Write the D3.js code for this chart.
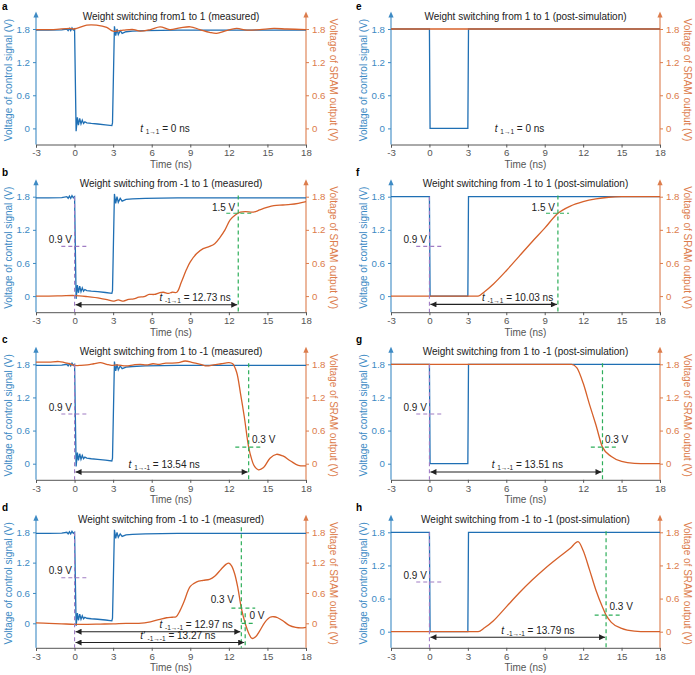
<!DOCTYPE html>
<html><head><meta charset="utf-8">
<script src="https://cdn.jsdelivr.net/npm/d3@7"></script>
<style>body{margin:0;background:#fff} svg{font-family:"Liberation Sans",Arial,sans-serif}</style>
</head><body><svg id="c" width="695" height="675"></svg>
<script>
// ---------- data ----------
const timeTicks = [-3,0,3,6,9,12,15,18];
const voltTicks = [0,0.6,1.2,1.8];
const panelLetters = ["a","b","c","d","e","f","g","h"];
const panelTitles = [
  "Weight switching from1 to 1 (measured)",
  "Weight switching from -1 to 1 (measured)",
  "Weight switching from 1 to -1 (measured)",
  "Weight switching from -1 to -1 (measured)",
  "Weight switching from 1 to 1 (post-simulation)",
  "Weight switching from -1 to 1 (post-simulation)",
  "Weight switching from 1 to -1 (post-simulation)",
  "Weight switching from -1 to -1 (post-simulation)"
];
const ctrlMeasured = [[-3,1.78],[-2,1.78],[-1,1.785],[-0.6,1.8],[-0.5,1.77],[-0.4,1.81],[-0.3,1.77],[-0.2,1.82],[-0.1,1.78],[0,1.8],[0.12,-0.05],[0.22,0.2],[0.3,0.06],[0.4,0.18],[0.5,0.08],[0.6,0.15],[0.7,0.09],[0.8,0.12],[0.95,0.1],[1.3,0.09],[1.8,0.08],[2.4,0.065],[2.9,0.05],[2.95,0.1],[3.1,1.85],[3.2,1.68],[3.3,1.8],[3.4,1.7],[3.55,1.77],[3.7,1.72],[4.0,1.75],[4.5,1.76],[5.5,1.77],[8,1.78],[18,1.78]];
const ctrlSim = [[-3,1.8],[0,1.8],[0.05,0],[3,0],[3.05,1.8],[18,1.8]];
const sramA = [[-3,1.79],[-1.65,1.79],[-0.35,1.81],[0,1.8],[0.94,1.87],[1.7,1.87],[2.5,1.83],[3,1.76],[3.8,1.78],[4.6,1.79],[5.1,1.76],[5.9,1.79],[6.65,1.84],[7.4,1.79],[8.2,1.82],[9,1.84],[9.75,1.79],[10.5,1.74],[11.05,1.72],[11.8,1.77],[12.6,1.81],[13.4,1.78],[14.4,1.79],[15.5,1.81],[16.5,1.8],[18,1.79]];
const sramB = [[-3,0],[-2,0],[-1,0.005],[0,0.01],[1,-0.01],[2,-0.04],[2.6,-0.07],[3.0,-0.09],[3.4,-0.07],[3.8,-0.09],[4.2,-0.06],[4.6,-0.05],[5.0,-0.02],[5.4,-0.01],[5.8,0.03],[6.2,0.03],[6.6,0.06],[6.9,0.07],[7.3,0.05],[7.6,0.07],[7.95,0.07],[8.3,0.25],[8.7,0.48],[9.0,0.62],[9.5,0.77],[10.0,0.86],[10.5,0.9],[10.9,0.95],[11.3,1.06],[11.7,1.2],[12.1,1.38],[12.5,1.47],[12.9,1.52],[13.3,1.53],[13.9,1.52],[14.4,1.56],[14.9,1.6],[15.5,1.64],[16.2,1.65],[16.8,1.66],[17.4,1.68],[18,1.71]];
const sramC = [[-3,1.84],[-2,1.84],[-1.2,1.85],[-0.4,1.81],[0,1.78],[0.5,1.78],[1,1.79],[1.5,1.81],[2,1.83],[2.5,1.8],[2.9,1.78],[3.3,1.79],[4,1.77],[4.6,1.79],[5.1,1.8],[5.6,1.79],[6.1,1.81],[6.6,1.8],[7.1,1.82],[7.6,1.82],[8.1,1.83],[8.6,1.86],[9.2,1.83],[9.8,1.8],[10.3,1.77],[10.8,1.79],[11.4,1.81],[12.0,1.83],[12.3,1.81],[12.6,1.66],[12.9,1.28],[13.2,0.85],[13.54,0.3],[13.75,0.1],[13.95,-0.03],[14.3,-0.11],[14.7,-0.07],[15.2,0.1],[15.7,0.17],[16.2,0.14],[16.8,0.05],[17.4,-0.03],[18,-0.04]];
const sramD = [[-3,0.01],[-2,0],[-1,-0.01],[0,-0.02],[1,-0.02],[2,-0.015],[3,-0.01],[4,0],[5,0],[5.9,0.03],[6.65,0.08],[7.15,0.11],[7.6,0.12],[7.9,0.13],[8.2,0.25],[8.5,0.42],[9.0,0.73],[9.5,0.82],[10.0,0.85],[10.5,0.87],[10.9,0.93],[11.4,1.07],[11.8,1.17],[12.0,1.19],[12.2,1.14],[12.45,0.98],[12.7,0.7],[12.97,0.3],[13.27,0.0],[13.55,-0.2],[13.8,-0.3],[14.1,-0.26],[14.4,-0.15],[14.8,0.02],[15.2,0.12],[15.5,0.13],[15.8,0.11],[16.2,0.05],[16.7,-0.04],[17.2,-0.08],[17.6,-0.09],[18,-0.08]];
const sramE = [[-3,1.8],[18,1.8]];
const sramF = [[-3,0],[3.8,0],[4.3,0.08],[5,0.22],[6,0.46],[7,0.72],[8,0.98],[9,1.23],[10.03,1.5],[11,1.63],[12,1.71],[13,1.76],[14,1.79],[15,1.8],[18,1.8]];
const sramG = [[-3,1.8],[11.1,1.8],[11.5,1.74],[12,1.46],[12.5,1.07],[13,0.7],[13.51,0.3],[14.2,0.13],[15,0.04],[16,0.005],[17,0],[18,0]];
const sramH = [[-3,0],[3.8,0],[4.3,0.07],[5,0.2],[6,0.45],[7,0.7],[8,0.93],[9,1.14],[10,1.33],[11,1.51],[11.6,1.63],[12,1.47],[12.5,1.12],[13,0.75],[13.5,0.45],[13.79,0.3],[14.2,0.17],[15,0.06],[16,0.01],[17,0],[18,0]];
const delayValues = ["0","12.73","13.54","12.97","0","10.03","13.51","13.79"];
const delaySubs = ["1\u21921","-1\u21921","1\u2192-1","-1\u2192-1","1\u21921","-1\u21921","1\u2192-1","-1\u2192-1"];
const thresholdV = [null,1.5,0.3,0.3,null,1.5,0.3,0.3];
const dPrimeValue = "13.27";

// ---------- layout ----------
const svg = d3.select("#c");
const cols = [{x0:36,x1:306},{x0:391,x1:660}];
const rowTops = [0,167.7,335.3,503.3];
const C = {blue:"#1f6fb4", orange:"#d6602a", blueAx:"#3d8ac4", orangeAx:"#dc7c4c", green:"#2eae5a", purple:"#a07cc4", dark:"#222", axis:"#555"};
const FS = 10, TS = 9.7;

svg.append("defs").selectAll("marker").data(["s","e"]).join("marker")
  .attr("id",d=>"arr"+d).attr("viewBox","0 0 10 10").attr("refX",d=>d==="e"?10:0).attr("refY",5)
  .attr("markerWidth",7).attr("markerHeight",6).attr("markerUnits","userSpaceOnUse").attr("orient","auto")
  .append("path").attr("d",d=>d==="e"?"M0,0L10,5L0,10Z":"M10,0L0,5L10,10Z").attr("fill",C.dark);

const panels = [
  {i:0,col:0,row:0,ctrl:ctrlMeasured,sram:sramA,meas:true,zero:{t:5.1}},
  {i:1,col:0,row:1,ctrl:ctrlMeasured,sram:sramB,meas:true,purple:true,
    thr:{t:12.73,h:[11.8,13.8],lt:12.5,anchor:"end",lv:1.55},arrows:[{t:12.73,v:-0.156,lx:6.6}]},
  {i:2,col:0,row:2,ctrl:ctrlMeasured,sram:sramC,meas:true,purple:true,
    thr:{t:13.54,h:[12.5,14.6],lt:13.8,anchor:"start",lv:0.38},arrows:[{t:13.54,v:-0.15,lx:4.2}]},
  {i:3,col:0,row:3,ctrl:ctrlMeasured,sram:sramD,meas:true,purple:true,y0:120,
    thr:{t:12.97,h:[12.2,14.05],lt:12.4,anchor:"end",lv:0.4,top:1.9},
    arrows:[{t:12.97,v:-0.166,lx:6.6},{t:13.27,v:-0.38,lx:5.1,prime:true}]},
  {i:4,col:1,row:0,ctrl:ctrlSim,sram:sramE,zero:{t:5.1}},
  {i:5,col:1,row:1,ctrl:ctrlSim,sram:sramF,purple:true,
    thr:{t:10.03,h:[9.1,10.9],lt:9.8,anchor:"end",lv:1.55},arrows:[{t:10.03,v:-0.15,lx:4.1}]},
  {i:6,col:1,row:2,ctrl:ctrlSim,sram:sramG,purple:true,
    thr:{t:13.51,h:[12.6,14.65],lt:13.7,anchor:"start",lv:0.38},arrows:[{t:13.51,v:-0.15,lx:4.86}]},
  {i:7,col:1,row:3,ctrl:ctrlSim,sram:sramH,purple:true,
    thr:{t:13.79,h:[12.9,14.97],lt:14.06,anchor:"start",lv:0.39},arrows:[{t:13.79,v:-0.1,lx:5.6}]}
];

function delayText(g,x,y,sub,val,prime){
  const t=g.append("text").attr("x",x).attr("y",y).attr("font-size",FS).attr("fill",C.dark);
  t.append("tspan").attr("font-style","italic").text(prime?"t\u2032 ":"t ");
  t.append("tspan").attr("font-size",6.5).attr("dy",2).text(sub);
  t.append("tspan").attr("dy",-2).text(" = "+val+" ns");
}

panels.forEach(p=>{
  const col=cols[p.col], rt=rowTops[p.row];
  const g=svg.append("g");
  const x=d3.scaleLinear().domain([-3,18]).range([col.x0,col.x1]);
  const y=d3.scaleLinear().domain([0,1.8]).range([rt+(p.y0||128.4),rt+29]);
  const bottom=rt+144.5, top=rt+12.5;
  const cx=(col.x0+col.x1)/2;

  // letter & title
  g.append("text").attr("x",col.x0-34+(p.col?-1:0)).attr("y",Math.max(rt+8,9.5)).attr("font-weight","bold").attr("font-size",10).text(panelLetters[p.i]);
  g.append("text").attr("x",cx).attr("y",rt+19.5).attr("text-anchor","middle").attr("font-size",FS).attr("fill",C.dark).text(panelTitles[p.i]);

  // x axis
  const xa=g.append("g").attr("transform",`translate(0,${bottom})`).call(d3.axisBottom(x).tickValues(timeTicks).tickSize(3).tickPadding(2).tickFormat(d=>String(d)));
  xa.select(".domain").attr("stroke",C.axis);
  xa.selectAll(".tick line").attr("stroke",C.axis);
  xa.selectAll("text").attr("font-size",TS).attr("fill",C.axis).attr("font-family",null);
  g.append("text").attr("x",cx).attr("y",rt+168).attr("text-anchor","middle").attr("font-size",FS).attr("fill",C.axis).text("Time (ns)");

  // left axis
  const fmt=d=>d===0?"0":d.toFixed(1);
  const la=g.append("g").attr("transform",`translate(${col.x0},0)`).call(d3.axisLeft(y).tickValues(voltTicks).tickSize(3).tickPadding(3).tickFormat(fmt));
  la.select(".domain").remove();
  la.selectAll(".tick line").attr("stroke",C.blueAx);
  la.selectAll("text").attr("font-size",TS).attr("fill",C.blueAx).attr("font-family",null);
  g.append("line").attr("x1",col.x0).attr("x2",col.x0).attr("y1",bottom).attr("y2",top+4).attr("stroke",C.blueAx).attr("stroke-width",1.1);
  g.append("path").attr("d",`M${col.x0-2.6},${top+5}L${col.x0},${top-1}L${col.x0+2.6},${top+5}Z`).attr("fill",C.blueAx);
  // right axis
  const ra=g.append("g").attr("transform",`translate(${col.x1},0)`).call(d3.axisRight(y).tickValues(voltTicks).tickSize(3).tickPadding(3).tickFormat(fmt));
  ra.select(".domain").remove();
  ra.selectAll(".tick line").attr("stroke",C.orangeAx);
  ra.selectAll("text").attr("font-size",TS).attr("fill",C.orangeAx).attr("font-family",null);
  g.append("line").attr("x1",col.x1).attr("x2",col.x1).attr("y1",bottom).attr("y2",top+4).attr("stroke",C.orangeAx).attr("stroke-width",1.1);
  g.append("path").attr("d",`M${col.x1-2.6},${top+5}L${col.x1},${top-1}L${col.x1+2.6},${top+5}Z`).attr("fill",C.orangeAx);
  // axis titles
  const midY=rt+80;
  g.append("text").attr("transform",`translate(${col.x0-24},${midY}) rotate(-90)`).attr("text-anchor","middle").attr("font-size",FS).attr("fill",C.blueAx).text("Voltage of control signal (V)");
  g.append("text").attr("transform",`translate(${col.x1+23.5},${midY}) rotate(90)`).attr("text-anchor","middle").attr("font-size",FS).attr("fill",C.orangeAx).text("Voltage of SRAM output (V)");

  // data lines
  g.append("path").datum(p.ctrl).attr("fill","none").attr("stroke",C.blue).attr("stroke-width",1.3)
    .attr("d",d3.line().x(d=>x(d[0])).y(d=>y(d[1])));
  g.append("path").datum(p.sram).attr("fill","none").attr("stroke",C.orange).attr("stroke-width",1.3)
    .attr("d",d3.line().x(d=>x(d[0])).y(d=>y(d[1])).curve(p.meas?d3.curveCatmullRom.alpha(0.5):d3.curveMonotoneX));

  // annotations
  if(p.zero){ delayText(g,x(p.zero.t),y(0)+3.5,delaySubs[p.i],delayValues[p.i],false); }
  if(p.purple){
    g.append("line").attr("x1",x(0)).attr("x2",x(0)).attr("y1",y(1.8)).attr("y2",bottom).attr("stroke",C.purple).attr("stroke-width",1.1).attr("stroke-dasharray","4,3");
    g.append("line").attr("x1",x(-1.03)).attr("x2",x(1.02)).attr("y1",y(0.9)).attr("y2",y(0.9)).attr("stroke",C.purple).attr("stroke-width",1.1).attr("stroke-dasharray","4,3");
    g.append("text").attr("x",x(-0.2)).attr("y",y(0.9)-3.5).attr("text-anchor","end").attr("font-size",FS).attr("fill",C.dark).text("0.9 V");
  }
  if(p.thr){
    const th=p.thr, v=thresholdV[p.i];
    g.append("line").attr("x1",x(th.t)).attr("x2",x(th.t)).attr("y1",y(th.top||1.82)).attr("y2",bottom).attr("stroke",C.green).attr("stroke-width",1.2).attr("stroke-dasharray","4,3");
    g.append("line").attr("x1",x(th.h[0])).attr("x2",x(th.h[1])).attr("y1",y(v)).attr("y2",y(v)).attr("stroke",C.green).attr("stroke-width",1.2).attr("stroke-dasharray","4,3");
    g.append("text").attr("x",x(th.lt)).attr("y",y(th.lv)).attr("text-anchor",th.anchor).attr("font-size",FS).attr("fill",C.dark).text(v.toFixed(1)+" V");
  }
  if(p.i===3){
    g.append("line").attr("x1",x(13.27)).attr("x2",x(13.27)).attr("y1",y(0.2)).attr("y2",bottom).attr("stroke",C.green).attr("stroke-width",1.2).attr("stroke-dasharray","4,3");
    g.append("line").attr("x1",x(13.0)).attr("x2",x(14.05)).attr("y1",y(0)).attr("y2",y(0)).attr("stroke",C.green).attr("stroke-width",1.2).attr("stroke-dasharray","4,3");
    g.append("text").attr("x",x(13.6)).attr("y",y(0.085)).attr("font-size",FS).attr("fill",C.dark).text("0 V");
  }
  (p.arrows||[]).forEach(a=>{
    g.append("line").attr("x1",x(0)+1).attr("x2",x(a.t)-1).attr("y1",y(a.v)).attr("y2",y(a.v)).attr("stroke",C.dark).attr("stroke-width",1.1)
      .attr("marker-start","url(#arrs)").attr("marker-end","url(#arre)");
    delayText(g,x(a.lx),y(a.v)-3.5,delaySubs[p.i],a.prime?dPrimeValue:delayValues[p.i],a.prime);
  });
});
</script></body></html>
